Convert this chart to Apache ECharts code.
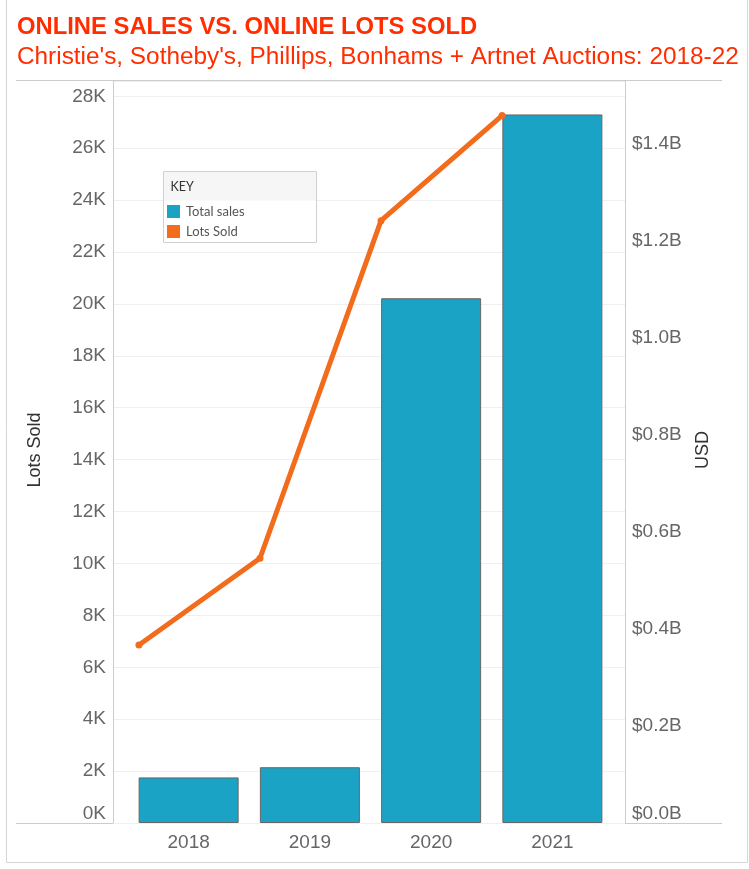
<!DOCTYPE html>
<html>
<head>
<meta charset="utf-8">
<script src="https://cdn.jsdelivr.net/npm/echarts@6/dist/echarts.min.js"></script>
<style>
html,body{margin:0;padding:0;background:#fff;}
#c{width:749px;height:869px;}
</style>
</head>
<body>
<div id="c"></div>
<script>
var years = ['2018', '2019', '2020', '2021'];
var totalSales = [0.094e9, 0.115e9, 1.082e9, 1.461e9];
var lotsSold = [6860, 10200, 23210, 27260];
var titleText = 'ONLINE SALES VS. ONLINE LOTS SOLD';
var subtitleText = "Christie's, Sotheby's, Phillips, Bonhams + Artnet Auctions: 2018-22";
var legendTitle = 'KEY';
var seriesNames = ['Total sales', 'Lots Sold'];
var leftAxisName = 'Lots Sold';
var rightAxisName = 'USD';

var FONT = "'Liberation Sans', Arial, Helvetica, sans-serif";
var LFONT = "Lato, 'Open Sans', sans-serif";
var lotsMax = 28590, salesMax = 1.53e9;

var chart = echarts.init(document.getElementById('c'));
chart.setOption({
  animation: false,
  textStyle: { fontFamily: FONT },
  grid: [
    { left: 113, right: 124, top: 81, bottom: 46 },
    { left: 128, right: 136, top: 81, bottom: 46 },
    { left: 78.4, right: 186.4, top: 81, bottom: 46 }
  ],
  xAxis: [
    { type: 'category', gridIndex: 0, data: years, show: false },
    { type: 'category', gridIndex: 1, data: years,
      axisLine: { show: false }, axisTick: { show: false },
      axisLabel: { fontSize: 19, color: '#666', margin: 10, fontFamily: FONT } },
    { type: 'category', gridIndex: 2, data: years, show: false }
  ],
  yAxis: [
    { type: 'value', gridIndex: 0, position: 'left', min: 0, max: lotsMax, interval: 2000,
      axisLine: { show: true, lineStyle: { color: '#cccccc' } }, axisTick: { show: false },
      splitLine: { show: true, lineStyle: { color: '#efefef' } },
      axisLabel: { fontSize: 19, color: '#666', margin: 7, fontFamily: FONT,
        verticalAlignMinLabel: 'bottom', showMaxLabel: false,
        formatter: function (v) { return Math.round(v / 1000) + 'K'; } } },
    { type: 'value', gridIndex: 0, position: 'right', min: 0, max: salesMax, interval: 0.2e9,
      axisLine: { show: true, lineStyle: { color: '#cccccc' } }, axisTick: { show: false },
      splitLine: { show: false },
      axisLabel: { fontSize: 19, color: '#666', margin: 7, fontFamily: FONT,
        verticalAlignMinLabel: 'bottom', showMaxLabel: false,
        formatter: function (v) { return '$' + (v / 1e9).toFixed(1) + 'B'; } } },
    { type: 'value', gridIndex: 1, min: 0, max: salesMax, show: false, splitLine: { show: false } },
    { type: 'value', gridIndex: 2, min: 0, max: lotsMax, show: false, splitLine: { show: false } }
  ],
  legend: {
    orient: 'vertical', left: 167, top: 205, padding: 0, itemWidth: 13, itemHeight: 13, itemGap: 7,
    icon: 'rect', z: 10, data: seriesNames,
    itemStyle: { borderWidth: 0 },
    textStyle: { fontFamily: LFONT, fontSize: 13, color: '#555', padding: [0, 0, 0, 1] }
  },
  series: [
    { name: seriesNames[0], type: 'bar', xAxisIndex: 1, yAxisIndex: 2, data: totalSales,
      barWidth: 100, itemStyle: { color: '#1ba3c6', borderColor: '#666', borderWidth: 1 } },
    { name: seriesNames[1], type: 'line', xAxisIndex: 2, yAxisIndex: 3, data: lotsSold,
      symbol: 'circle', symbolSize: 7, z: 5,
      lineStyle: { color: '#f26c1c', width: 5 }, itemStyle: { color: '#f26c1c' } }
  ],
  graphic: [
    { type: 'text', silent: true, x: 17, y: 27.5,
      style: { text: titleText, fontFamily: FONT, fontSize: 23.8, fontWeight: 'bold', fill: '#ff2d00',
        verticalAlign: 'middle' } },
    { type: 'text', silent: true, x: 17, y: 57.5,
      style: { text: subtitleText, fontFamily: FONT, fontSize: 24.35, fill: '#ff2d00',
        verticalAlign: 'middle' } },
    { type: 'rect', silent: true, z: -1, shape: { x: 6.5, y: -2, width: 741, height: 864.5 },
      style: { fill: null, stroke: '#d6d6d6', lineWidth: 1 } },
    { type: 'line', silent: true, shape: { x1: 16, y1: 80.5, x2: 722, y2: 80.5 },
      style: { stroke: '#cccccc', lineWidth: 1 } },
    { type: 'line', silent: true, shape: { x1: 16, y1: 823.5, x2: 722, y2: 823.5 },
      style: { stroke: '#cccccc', lineWidth: 1 } },
    { type: 'rect', silent: true, z: 8, shape: { x: 163.5, y: 171.5, width: 153, height: 71 },
      style: { fill: '#ffffff', stroke: '#d0d0d0', lineWidth: 1 } },
    { type: 'rect', silent: true, z: 8, shape: { x: 164, y: 172, width: 152, height: 28.5 },
      style: { fill: '#f6f6f6' } },
    { type: 'text', silent: true, z: 9, x: 170.5, y: 187,
      style: { text: legendTitle, fontFamily: LFONT, fontSize: 12.5,
        fill: '#333', verticalAlign: 'middle' } },
    { type: 'text', silent: true, x: 35, y: 450, rotation: Math.PI / 2,
      style: { text: leftAxisName, fontFamily: FONT, fontSize: 18, fill: '#333',
        align: 'center', verticalAlign: 'middle' } },
    { type: 'text', silent: true, x: 703, y: 450, rotation: Math.PI / 2,
      style: { text: rightAxisName, fontFamily: FONT, fontSize: 18, fill: '#333',
        align: 'center', verticalAlign: 'middle' } }
  ]
});
</script>
</body>
</html>
